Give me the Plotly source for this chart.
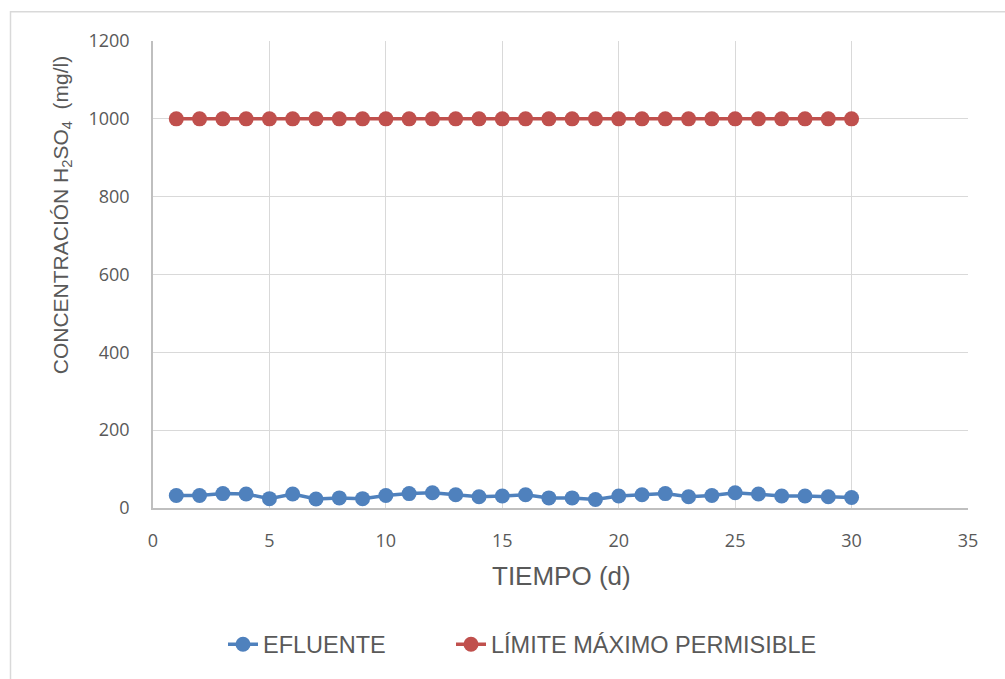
import plotly.graph_objects as go

# Días de muestreo y concentraciones medidas
dias = list(range(1, 31))
efluente = [32, 32, 37, 36, 24, 36, 23, 26, 24, 32,
            37, 39, 34, 29, 31, 34, 26, 26, 22, 31,
            34, 37, 29, 32, 39, 36, 31, 31, 29, 27]
limite = [1000] * 30

x_ticks = [0, 5, 10, 15, 20, 25, 30, 35]
y_ticks = [0, 200, 400, 600, 800, 1000, 1200]

AZUL = "#4F81BD"
ROJO = "#C0504D"
GRIS_TXT = "#595959"
FUENTE_TIT = "Liberation Sans, Arial, sans-serif"
FUENTE_TICK = "Open Sans, Liberation Sans, sans-serif"

fig = go.Figure()
fig.add_trace(go.Scatter(
    x=dias, y=efluente, name="EFLUENTE", mode="lines+markers",
    line=dict(color=AZUL, width=3.5),
    marker=dict(color=AZUL, size=15),
    legend="legend",
))
fig.add_trace(go.Scatter(
    x=dias, y=limite, name="LÍMITE MÁXIMO PERMISIBLE", mode="lines+markers",
    line=dict(color=ROJO, width=3.5),
    marker=dict(color=ROJO, size=15),
    legend="legend2",
))

W, H = 1005, 679
L, R, T, B = 153, 968, 41, 510
pw, ph = R - L, B - T

def px_x(p):
    return (p - L) / pw

def px_y(p):
    return (B - p) / ph

leyenda = dict(
    orientation="h", xanchor="left", y=px_y(647), yanchor="middle",
    font=dict(family=FUENTE_TIT, size=23.5, color=GRIS_TXT),
    bgcolor="rgba(0,0,0,0)",
)

fig.update_layout(
    width=W, height=H,
    margin=dict(l=L, r=W - R, t=T, b=H - B),
    paper_bgcolor="white", plot_bgcolor="white",
    font=dict(family=FUENTE_TICK, color=GRIS_TXT, size=18),
    showlegend=True,
    legend=dict(leyenda, x=px_x(223)),
    legend2=dict(leyenda, x=px_x(451)),
    xaxis=dict(
        range=[0, 35], tickvals=x_ticks, showgrid=True, gridcolor="#D9D9D9", gridwidth=1,
        zeroline=False, showline=True, linecolor="#BFBFBF", linewidth=1.5,
        ticks="", tickfont=dict(size=18, color=GRIS_TXT), ticklabelstandoff=16,
    ),
    yaxis=dict(
        range=[0, 1200], tickvals=y_ticks, showgrid=True, gridcolor="#D9D9D9", gridwidth=1,
        zeroline=False, showline=True, linecolor="#BFBFBF", linewidth=1.5,
        ticks="", tickfont=dict(size=18, color=GRIS_TXT), ticklabelstandoff=18,
    ),
    annotations=[
        dict(
            text="TIEMPO (d)", xref="paper", yref="paper",
            x=px_x(561), y=px_y(578), xanchor="center", yanchor="middle", showarrow=False,
            font=dict(family=FUENTE_TIT, size=26, color=GRIS_TXT),
        ),
        dict(
            text="CONCENTRACIÓN H<sub>2</sub>SO<sub>4</sub>  (mg/l)", xref="paper", yref="paper",
            x=px_x(62), y=px_y(216), xanchor="center", yanchor="middle", showarrow=False,
            textangle=-90,
            font=dict(family=FUENTE_TIT, size=21, color=GRIS_TXT),
        ),
    ],
    shapes=[
        dict(type="rect", xref="paper", yref="paper",
             x0=px_x(10.5), x1=px_x(1010), y0=px_y(700), y1=px_y(11.5),
             line=dict(color="#D9D9D9", width=1.5), layer="below"),
    ],
)

fig.write_html("out.html")
